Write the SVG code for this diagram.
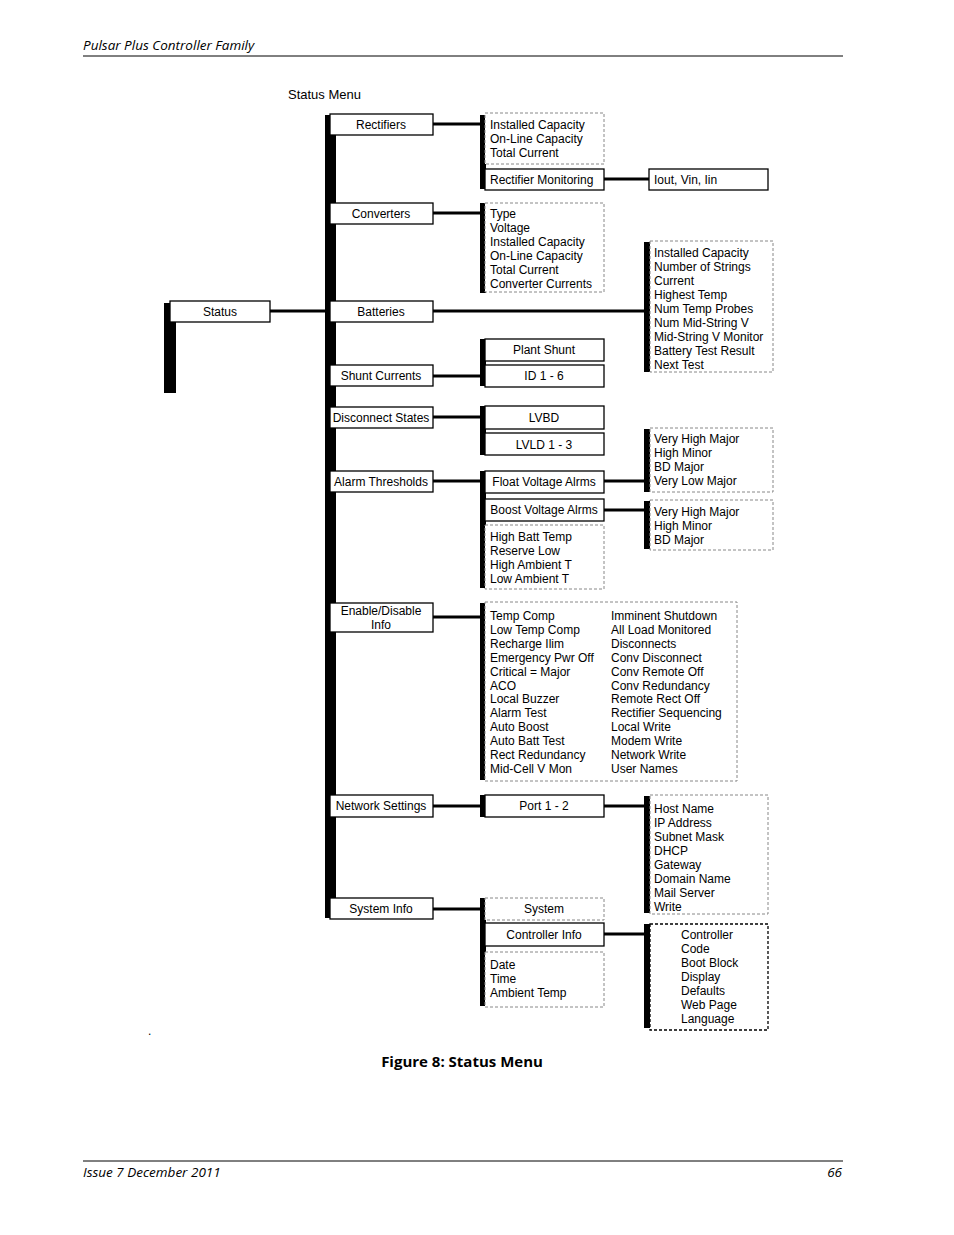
<svg xmlns="http://www.w3.org/2000/svg" width="954" height="1235" viewBox="0 0 954 1235">
<style>
text{font-family:"Liberation Sans",Arial,sans-serif;font-size:12px;fill:#000}
.c{text-anchor:middle}
.b{fill:#fff;stroke:#000;stroke-width:1.3}
.d{fill:#fff;stroke:#888;stroke-width:1;stroke-dasharray:3,2}
.dk{fill:#fff;stroke:#000;stroke-width:1.3;stroke-dasharray:3,2}
.bar{fill:#000}
.l{stroke:#000;stroke-width:3;fill:none}
.pg{font-family:"Open Sans","Liberation Sans",sans-serif;font-size:13.5px;font-style:italic}
</style>
<rect width="954" height="1235" fill="#fff"/>
<text class="pg" x="83" y="50">Pulsar Plus Controller Family</text>
<line x1="83" y1="56" x2="843" y2="56" stroke="#000" stroke-width="1"/>
<line x1="83" y1="1161" x2="843" y2="1161" stroke="#000" stroke-width="1"/>
<text class="pg" x="83" y="1177">Issue 7 December 2011</text>
<text class="pg" x="842" y="1177" text-anchor="end">66</text>
<text x="462" y="1067" class="c" style="font-family:'Open Sans','Liberation Sans',sans-serif;font-size:15px;font-weight:bold">Figure 8: Status Menu</text>
<text x="148" y="1035">.</text>
<text x="288" y="99" style="font-size:13px">Status Menu</text>

<g id="connectors">
<line class="l" x1="270" y1="311" x2="326" y2="311"/>
<line class="l" x1="433" y1="124" x2="481" y2="124"/>
<line class="l" x1="433" y1="213" x2="481" y2="213"/>
<line class="l" x1="433" y1="311" x2="645" y2="311"/>
<line class="l" x1="433" y1="376" x2="481" y2="376"/>
<line class="l" x1="433" y1="417" x2="481" y2="417"/>
<line class="l" x1="433" y1="481" x2="481" y2="481"/>
<line class="l" x1="433" y1="617" x2="481" y2="617"/>
<line class="l" x1="433" y1="806" x2="481" y2="806"/>
<line class="l" x1="433" y1="909" x2="481" y2="909"/>
<line class="l" x1="604" y1="179" x2="649" y2="179"/>
<line class="l" x1="604" y1="481" x2="645" y2="481"/>
<line class="l" x1="604" y1="510" x2="645" y2="510"/>
<line class="l" x1="604" y1="806" x2="645" y2="806"/>
<line class="l" x1="604" y1="934" x2="645" y2="934"/>
</g>

<g id="bars">
<rect class="bar" x="164" y="303" width="12" height="90"/>
<rect class="bar" x="325" y="115" width="11" height="803"/>
<rect class="bar" x="480" y="115" width="6" height="74"/>
<rect class="bar" x="480" y="203" width="6" height="90"/>
<rect class="bar" x="480" y="339" width="6" height="47"/>
<rect class="bar" x="480" y="406" width="6" height="49"/>
<rect class="bar" x="480" y="471" width="6" height="117"/>
<rect class="bar" x="480" y="603" width="6" height="177"/>
<rect class="bar" x="480" y="795" width="6" height="22"/>
<rect class="bar" x="480" y="898" width="6" height="108"/>
<rect class="bar" x="644" y="242" width="6" height="130"/>
<rect class="bar" x="644" y="429" width="6" height="63"/>
<rect class="bar" x="644" y="501" width="6" height="48"/>
<rect class="bar" x="644" y="796" width="6" height="117"/>
<rect class="bar" x="644" y="924" width="6" height="104"/>
</g>

<g id="status"><rect class="b" x="170" y="301" width="100" height="21"/><text class="c" x="220" y="315.5">Status</text></g>
<g id="rectifiers"><rect class="b" x="330" y="114" width="103" height="21"/><text class="c" x="381" y="128.5">Rectifiers</text></g>
<g id="converters"><rect class="b" x="330" y="203" width="103" height="21"/><text class="c" x="381" y="217.5">Converters</text></g>
<g id="batteries"><rect class="b" x="330" y="301" width="103" height="21"/><text class="c" x="381" y="315.5">Batteries</text></g>
<g id="shunt"><rect class="b" x="330" y="365" width="103" height="21"/><text class="c" x="381" y="379.5">Shunt Currents</text></g>
<g id="disconnect"><rect class="b" x="330" y="407" width="103" height="21"/><text class="c" x="381" y="421.5">Disconnect States</text></g>
<g id="alarm"><rect class="b" x="330" y="471" width="103" height="21"/><text class="c" x="381" y="485.5">Alarm Thresholds</text></g>
<g id="enable"><rect class="b" x="330" y="603" width="103" height="29"/><text class="c" x="381" y="614.5">Enable/Disable</text><text class="c" x="381" y="628.5">Info</text></g>
<g id="network"><rect class="b" x="330" y="795" width="103" height="22"/><text class="c" x="381" y="810">Network Settings</text></g>
<g id="sysinfo"><rect class="b" x="330" y="898" width="103" height="21"/><text class="c" x="381" y="912.5">System Info</text></g>

<g id="rect-list"><rect class="d" x="485" y="113" width="119" height="51"/>
<text x="490" y="129">Installed Capacity</text><text x="490" y="143">On-Line Capacity</text><text x="490" y="157">Total Current</text></g>
<g id="rect-mon"><rect class="b" x="485" y="169" width="119" height="21"/><text x="490" y="183.5">Rectifier Monitoring</text></g>
<g id="iout"><rect class="b" x="649" y="169" width="119" height="21"/><text x="654" y="183.5">Iout, Vin, Iin</text></g>
<g id="conv-list"><rect class="d" x="485" y="203" width="119" height="89"/>
<text x="490" y="218">Type</text><text x="490" y="232">Voltage</text><text x="490" y="246">Installed Capacity</text><text x="490" y="260">On-Line Capacity</text><text x="490" y="274">Total Current</text><text x="490" y="288">Converter Currents</text></g>
<g id="batt-list"><rect class="d" x="650" y="241" width="123" height="131"/>
<text x="654" y="257">Installed Capacity</text><text x="654" y="271">Number of Strings</text><text x="654" y="285">Current</text><text x="654" y="299">Highest Temp</text><text x="654" y="313">Num Temp Probes</text><text x="654" y="327">Num Mid-String V</text><text x="654" y="341">Mid-String V Monitor</text><text x="654" y="355">Battery Test Result</text><text x="654" y="369">Next Test</text></g>
<g id="plant"><rect class="b" x="485" y="339" width="119" height="22"/><text class="c" x="544" y="354">Plant Shunt</text></g>
<g id="id16"><rect class="b" x="485" y="365" width="119" height="22"/><text class="c" x="544" y="380">ID 1 - 6</text></g>
<g id="lvbd"><rect class="b" x="485" y="406" width="119" height="23"/><text class="c" x="544" y="421.5">LVBD</text></g>
<g id="lvld"><rect class="b" x="485" y="433" width="119" height="22"/><text class="c" x="544" y="448.5">LVLD 1 - 3</text></g>
<g id="float"><rect class="b" x="485" y="471" width="119" height="22"/><text class="c" x="544" y="486">Float Voltage Alrms</text></g>
<g id="boost"><rect class="b" x="485" y="499" width="119" height="22"/><text class="c" x="544" y="514">Boost Voltage Alrms</text></g>
<g id="alarm-list"><rect class="d" x="485" y="525" width="119" height="64"/>
<text x="490" y="541">High Batt Temp</text><text x="490" y="555">Reserve Low</text><text x="490" y="569">High Ambient T</text><text x="490" y="583">Low Ambient T</text></g>
<g id="float-list"><rect class="d" x="650" y="428" width="123" height="64"/>
<text x="654" y="443">Very High Major</text><text x="654" y="457">High Minor</text><text x="654" y="471">BD Major</text><text x="654" y="485">Very Low Major</text></g>
<g id="boost-list"><rect class="d" x="650" y="500" width="123" height="50"/>
<text x="654" y="516">Very High Major</text><text x="654" y="530">High Minor</text><text x="654" y="544">BD Major</text></g>
<g id="enable-list"><rect class="d" x="485" y="602" width="252" height="179"/>
<text x="490" y="620">Temp Comp</text><text x="490" y="634">Low Temp Comp</text><text x="490" y="648">Recharge Ilim</text><text x="490" y="662">Emergency Pwr Off</text><text x="490" y="676">Critical = Major</text><text x="490" y="690">ACO</text><text x="490" y="703">Local Buzzer</text><text x="490" y="717">Alarm Test</text><text x="490" y="731">Auto Boost</text><text x="490" y="745">Auto Batt Test</text><text x="490" y="759">Rect Redundancy</text><text x="490" y="773">Mid-Cell V Mon</text>
<text x="611" y="620">Imminent Shutdown</text><text x="611" y="634">All Load Monitored</text><text x="611" y="648">Disconnects</text><text x="611" y="662">Conv Disconnect</text><text x="611" y="676">Conv Remote Off</text><text x="611" y="690">Conv Redundancy</text><text x="611" y="703">Remote Rect Off</text><text x="611" y="717">Rectifier Sequencing</text><text x="611" y="731">Local Write</text><text x="611" y="745">Modem Write</text><text x="611" y="759">Network Write</text><text x="611" y="773">User Names</text></g>
<g id="port"><rect class="b" x="485" y="795" width="119" height="22"/><text class="c" x="544" y="810">Port 1 - 2</text></g>
<g id="net-list"><rect class="d" x="650" y="795" width="118" height="119"/>
<text x="654" y="813">Host Name</text><text x="654" y="827">IP Address</text><text x="654" y="841">Subnet Mask</text><text x="654" y="855">DHCP</text><text x="654" y="869">Gateway</text><text x="654" y="883">Domain Name</text><text x="654" y="897">Mail Server</text><text x="654" y="911">Write</text></g>
<g id="system"><rect class="d" x="485" y="898" width="119" height="22"/><text class="c" x="544" y="913">System</text></g>
<g id="ctrlinfo"><rect class="b" x="485" y="923" width="119" height="23"/><text class="c" x="544" y="939">Controller Info</text></g>
<g id="sys-list"><rect class="d" x="485" y="952" width="119" height="55"/>
<text x="490" y="969">Date</text><text x="490" y="983">Time</text><text x="490" y="997">Ambient Temp</text></g>
<g id="ctrl-list"><rect class="dk" x="650" y="924" width="118" height="106"/>
<text x="681" y="939">Controller</text><text x="681" y="953">Code</text><text x="681" y="967">Boot Block</text><text x="681" y="981">Display</text><text x="681" y="995">Defaults</text><text x="681" y="1009">Web Page</text><text x="681" y="1023">Language</text></g>
</svg>
